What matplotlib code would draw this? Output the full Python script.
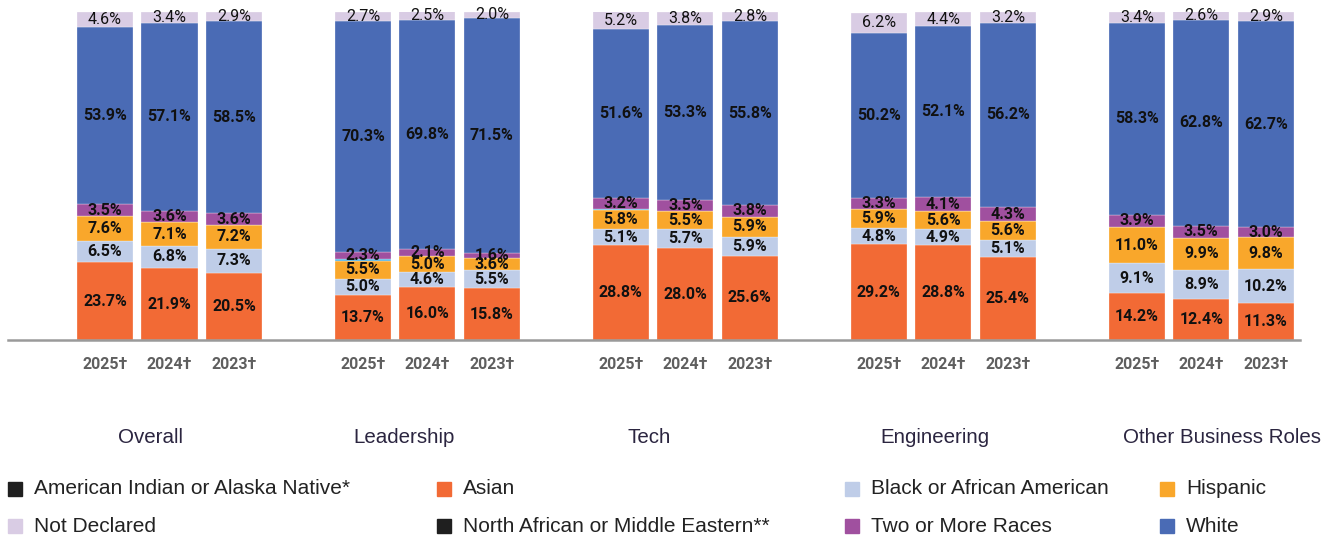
import numpy as np
import matplotlib.pyplot as plt
from matplotlib.patches import Rectangle

### Dados

groups = ['Overall', 'Leadership', 'Tech', 'Engineering', 'Other Business Roles']
years = ['2025†', '2024†', '2023†']

# uma lista por categoria, 15 valores (5 grupos x 3 anos)
asian = [23.7, 21.9, 20.5, 13.7, 16.0, 15.8, 28.8, 28.0, 25.6, 29.2, 28.8, 25.4, 14.2, 12.4, 11.3]
black = [6.5, 6.8, 7.3, 5.0, 4.6, 5.5, 5.1, 5.7, 5.9, 4.8, 4.9, 5.1, 9.1, 8.9, 10.2]
hispanic = [7.6, 7.1, 7.2, 5.5, 5.0, 3.6, 5.8, 5.5, 5.9, 5.9, 5.6, 5.6, 11.0, 9.9, 9.8]
mena = [0.0, 0.0, 0.0, 0.4, 0.0, 0.0, 0.3, 0.0, 0.0, 0.0, 0.0, 0.0, 0.0, 0.0, 0.0]
two_more = [3.5, 3.6, 3.6, 2.3, 2.1, 1.6, 3.2, 3.5, 3.8, 3.3, 4.1, 4.3, 3.9, 3.5, 3.0]
white = [53.9, 57.1, 58.5, 70.3, 69.8, 71.5, 51.6, 53.3, 55.8, 50.2, 52.1, 56.2, 58.3, 62.8, 62.7]
not_declared = [4.6, 3.4, 2.9, 2.7, 2.5, 2.0, 5.2, 3.8, 2.8, 6.2, 4.4, 3.2, 3.4, 2.6, 2.9]

legend_labels = ['American Indian or Alaska Native*', 'Asian', 'Black or African American', 'Hispanic',
                 'Not Declared', 'North African or Middle Eastern**', 'Two or More Races', 'White']

### Estilo

C_ASIAN = '#F26A35'
C_BLACK = '#BFCDE8'
C_HISP = '#F9A72B'
C_MENA = '#55B4E4'
C_TWO = '#A0509F'
C_WHITE = '#4A6BB5'
C_ND = '#D9CCE4'
legend_colors = ['#1f1f1f', C_ASIAN, C_BLACK, C_HISP, C_ND, '#1f1f1f', C_TWO, C_WHITE]

NUM_FONT = 'Roboto'
TXT_FONT = 'Liberation Sans'

fig = plt.figure(figsize=(13.35, 5.38), dpi=100)
W, H = 1335, 538
ax = fig.add_axes([8 / W, 1 - 340 / H, (1300 - 8) / W, (340 - 11.5) / H])

x = np.array([g * 4 + i for g in range(len(groups)) for i in range(len(years))], dtype=float)
width = 0.87

stack = [
    (asian, C_ASIAN, True),
    (black, C_BLACK, True),
    (hispanic, C_HISP, True),
    (mena, C_MENA, False),
    (two_more, C_TWO, True),
    (white, C_WHITE, True),
    (not_declared, C_ND, True),
]

bottom = np.zeros(len(x))
for vals, color, show in stack:
    vals = np.array(vals)
    ax.bar(x, vals, width, bottom=bottom, color=color, edgecolor='white', linewidth=0.2)
    if show:
        bold = color != C_ND
        for xi, b, v in zip(x, bottom, vals):
            if v <= 0:
                continue
            ax.text(xi, b + v / 2, f'{v:.1f}%', ha='center', va='center',
                    fontsize=11.5, family=NUM_FONT,
                    fontweight='bold' if bold else 'normal', color='#111111')
    bottom += vals

ax.set_xlim(-1.504, 18.53)
ax.set_ylim(0, 100)
for s in ['top', 'right', 'left']:
    ax.spines[s].set_visible(False)
ax.spines['bottom'].set_color('#9a9a9a')
ax.spines['bottom'].set_linewidth(1.8)
ax.set_yticks([])
ax.set_xticks(x)
ax.set_xticklabels(years * len(groups), fontsize=11.5, family=NUM_FONT,
                   fontweight='bold', color='#5f5f5f')
ax.tick_params(axis='x', length=0, pad=12)

# rótulos dos grupos
group_offsets = [0.71, 0.64, 0.44, 0.87, 1.32]
for g, name in enumerate(groups):
    ax.text(g * 4 + group_offsets[g], -29.8, name, ha='center', va='center',
            fontsize=14.8, family=TXT_FONT, color='#2b2540')

# legenda manual (4 colunas, 2 linhas)
col_x = [8, 437, 845, 1160]
row_y = [489, 526]
for k, (lab, col) in enumerate(zip(legend_labels, legend_colors)):
    r, c = divmod(k, 4)
    sx, sy = col_x[c], row_y[r]
    fig.patches.append(Rectangle((sx / W, 1 - (sy + 7) / H), 14 / W, 14 / H,
                                 transform=fig.transFigure, color=col))
    fig.text((sx + 26) / W, 1 - sy / H, lab, ha='left', va='center',
             fontsize=15, family=TXT_FONT, color='#222222')

fig.savefig('out.png', dpi=100)
